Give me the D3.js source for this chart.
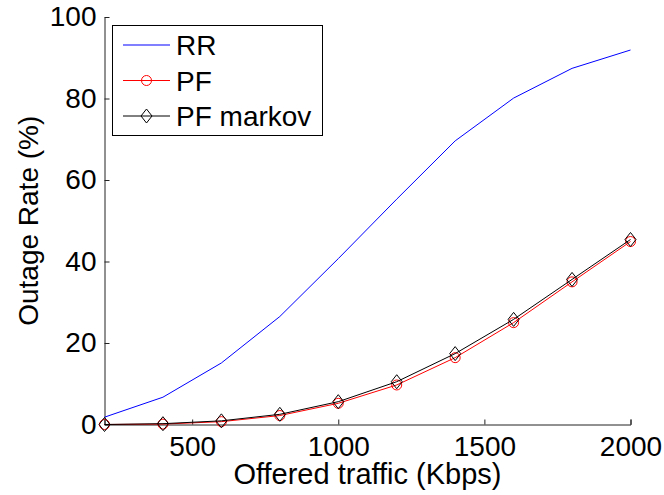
<!DOCTYPE html>
<html>
<head>
<meta charset="utf-8">
<script src="https://cdn.jsdelivr.net/npm/d3@7"></script>
<style>
  body { margin: 0; background: #fff; }
  text { font-family: "Liberation Sans", Arial, sans-serif; fill: #000; }
</style>
</head>
<body>
<script>
const width = 664, height = 495;

// data
const traffic = [200, 400, 600, 800, 1000, 1200, 1400, 1600, 1800, 2000];
const rr = [1.8, 6.7, 15.1, 26.5, 40.7, 55.3, 69.6, 80.1, 87.4, 91.9];
const pf = [0, 0.1, 0.7, 2.2, 5.2, 9.7, 16.4, 25.0, 35.0, 44.9];
const pfMarkov = [0, 0.2, 0.9, 2.5, 5.6, 10.5, 17.4, 25.8, 35.6, 45.4];
const xTicks = [500, 1000, 1500, 2000];
const yTicks = [0, 20, 40, 60, 80, 100];

const svg = d3.select("body").append("svg")
  .attr("width", width)
  .attr("height", height);

const x = d3.scaleLinear().domain([200, 2000]).range([104.5, 630.5]);
const y = d3.scaleLinear().domain([0, 100]).range([424.5, 17]);

// axes (box off, ticks inward)
const xAxis = svg.append("g")
  .attr("transform", "translate(0," + y(0) + ")")
  .call(d3.axisBottom(x).tickValues(xTicks).tickFormat(d3.format("d"))
    .tickSizeInner(-5).tickSizeOuter(-5).tickPadding(12));
const yAxis = svg.append("g")
  .attr("transform", "translate(" + x(200) + ",0)")
  .call(d3.axisLeft(y).tickValues(yTicks).tickFormat(d3.format("d"))
    .tickSizeInner(-5).tickSizeOuter(0).tickPadding(8));

[xAxis, yAxis].forEach(g => {
  g.selectAll("path, line").attr("stroke", "#222").attr("stroke-width", 1);
  g.selectAll("text").style("font-size", "28px").attr("fill", "#000");
});
xAxis.selectAll("text").attr("dy", "0.71em");

svg.append("text")
  .attr("x", (x(200) + x(2000)) / 2)
  .attr("y", 484)
  .attr("text-anchor", "middle")
  .style("font-size", "29px")
  .text("Offered traffic (Kbps)");

svg.append("text")
  .attr("transform", "translate(38," + (y(0) + y(100)) / 2 + ") rotate(-90)")
  .attr("text-anchor", "middle")
  .style("font-size", "28px")
  .text("Outage Rate (%)");

const line = (vals) => d3.line()
  .x((d, i) => x(traffic[i]))
  .y(d => y(d))(vals);

const diamond = (cx, cy) => `M${cx},${cy - 7}L${cx + 5.5},${cy}L${cx},${cy + 7}L${cx - 5.5},${cy}Z`;

svg.append("path").attr("d", line(rr))
  .attr("fill", "none").attr("stroke", "#0000ff").attr("stroke-width", 1);

svg.append("path").attr("d", line(pf))
  .attr("fill", "none").attr("stroke", "#ff0000").attr("stroke-width", 1);
svg.selectAll(".pfm").data(pf).enter().append("circle")
  .attr("cx", (d, i) => x(traffic[i]))
  .attr("cy", d => y(d))
  .attr("r", 5)
  .attr("fill", "none").attr("stroke", "#ff0000").attr("stroke-width", 1);

svg.append("path").attr("d", line(pfMarkov))
  .attr("fill", "none").attr("stroke", "#000").attr("stroke-width", 1);
svg.selectAll(".pmm").data(pfMarkov).enter().append("path")
  .attr("d", (d, i) => diamond(x(traffic[i]), y(d)))
  .attr("fill", "none").attr("stroke", "#000").attr("stroke-width", 1);

// legend
const legend = svg.append("g");
legend.append("rect")
  .attr("x", 112.5).attr("y", 25.5).attr("width", 210).attr("height", 110)
  .attr("fill", "#fff").attr("stroke", "#000").attr("stroke-width", 1);

const names = ["RR", "PF", "PF markov"];
const colors = ["#0000ff", "#ff0000", "#000"];
names.forEach((n, i) => {
  const ly = 45 + i * 35.5;
  legend.append("line")
    .attr("x1", 123).attr("x2", 170).attr("y1", ly).attr("y2", ly)
    .attr("stroke", colors[i]).attr("stroke-width", 1);
  if (i === 1) {
    legend.append("circle").attr("cx", 146.5).attr("cy", ly).attr("r", 5)
      .attr("fill", "none").attr("stroke", colors[i]);
  }
  if (i === 2) {
    legend.append("path").attr("d", diamond(146.5, ly))
      .attr("fill", "none").attr("stroke", colors[i]);
  }
  legend.append("text")
    .attr("x", 176).attr("y", ly)
    .attr("dy", "0.36em")
    .style("font-size", "28px")
    .text(n);
});
</script>
</body>
</html>
